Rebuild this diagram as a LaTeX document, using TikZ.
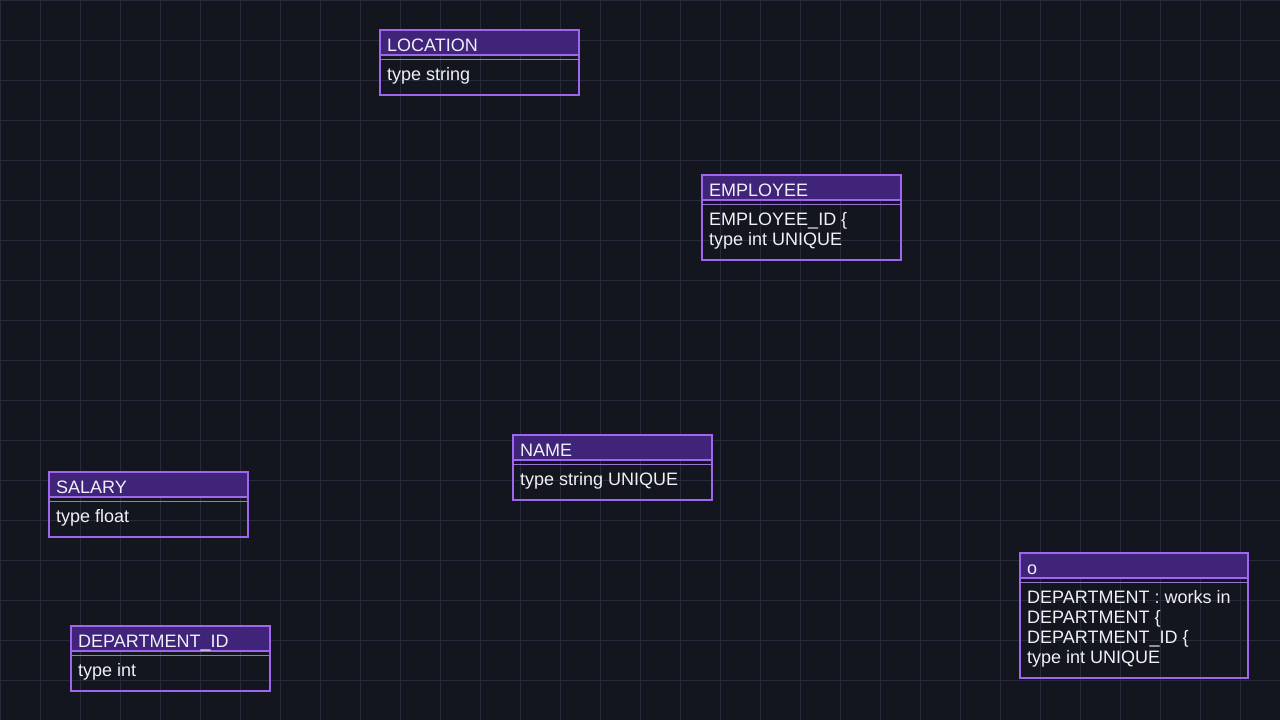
\documentclass[tikz,border=0pt]{standalone}
\usepackage{fontspec}
\setmainfont{Liberation Sans}
\definecolor{bg}{RGB}{19,22,31}
\definecolor{gridc}{RGB}{39,42,58}
\definecolor{bord}{RGB}{160,102,240}
\definecolor{hdrc}{RGB}{63,36,122}
\definecolor{sepc}{RGB}{150,120,210}
\definecolor{txt}{RGB}{240,240,246}
\tikzset{
  box/.style={draw=bord, line width=2pt, rectangle, inner sep=0pt, outer sep=0pt},
  hdr/.style={fill=hdrc},
  sepa/.style={draw=bord, line width=1.6pt},
  sepb/.style={draw=sepc, line width=1pt},
  ttl/.style={text=txt, inner sep=0pt, font=\fontsize{18}{20}\selectfont},
  bodyt/.style={text=txt, inner sep=0pt, font=\fontsize{18}{20}\selectfont},
}
\newcommand\erbox[7]{%
  \fill[hdr] (#2,#3) rectangle ({#2+#4},{#3+25});
  \node[box, minimum width=#4pt, minimum height=#5pt, anchor=north west] (#1) at (#2,#3) {};
  \draw[sepa] (#2,{#3+25}) -- ({#2+#4},{#3+25});
  \draw[sepb] (#2,{#3+29}) -- ({#2+#4},{#3+29});
  \node[ttl, anchor=base west] (#1-t) at ({#2+7},{#3+21}) {#6};
  \foreach \ln [count=\i] in {#7} {
    \node[bodyt, anchor=base west] (#1-b\i) at ({#2+7},{#3+50+20*(\i-1)}) {\ln};
  }
}
\begin{document}
\begin{tikzpicture}[x=1pt,y=-1pt]
\fill[bg] (0,0) rectangle (1280,720);
\useasboundingbox (0,0) rectangle (1280,720);
\foreach \g in {0,40,...,1280} { \draw[gridc, line width=1pt] (\g,0) -- (\g,720); }
\foreach \g in {0,40,...,720} { \draw[gridc, line width=1pt] (0,\g) -- (1280,\g); }
\erbox{location}{380}{30}{199}{65}{LOCATION}{type string}
\erbox{employee}{702}{175}{199}{85}{EMPLOYEE}{EMPLOYEE\_ID \{,type int UNIQUE}
\erbox{name}{513}{435}{199}{65}{NAME}{type string UNIQUE}
\erbox{salary}{49}{472}{199}{65}{SALARY}{type float}
\erbox{deptid}{71}{626}{199}{65}{DEPARTMENT\_ID}{type int}
\erbox{o}{1020}{553}{228}{125}{o}{DEPARTMENT : works in,DEPARTMENT \{,DEPARTMENT\_ID \{,type int UNIQUE}
\end{tikzpicture}
\end{document}
